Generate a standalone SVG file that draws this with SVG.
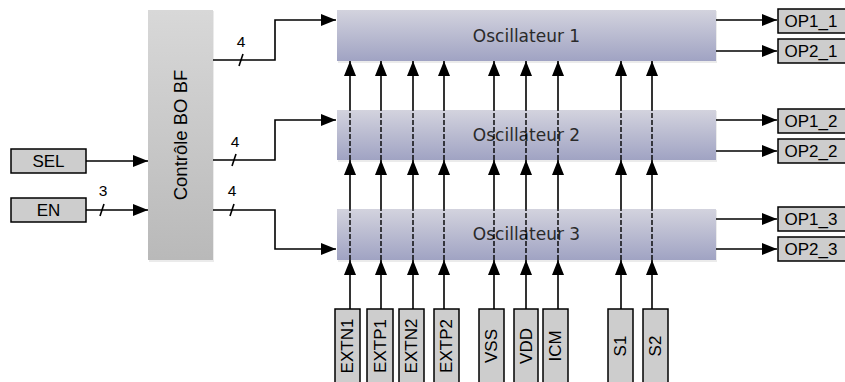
<svg xmlns="http://www.w3.org/2000/svg" width="845" height="382" viewBox="0 0 845 382">
<defs>
<linearGradient id="gCtrl" x1="0" y1="0" x2="0" y2="1">
<stop offset="0" stop-color="#d8d8d8"/>
<stop offset="1" stop-color="#b9b9b9"/>
</linearGradient>
<linearGradient id="gOsc" x1="0" y1="0" x2="0" y2="1">
<stop offset="0" stop-color="#d3d3de"/>
<stop offset="1" stop-color="#a0a3c3"/>
</linearGradient>
<marker id="ah" markerUnits="userSpaceOnUse" markerWidth="15" markerHeight="12" refX="15" refY="6" orient="auto">
<path d="M0,0 L15,6 L0,12 z" fill="#000"/>
</marker>
<style>
.io{fill:#cdcdcd;stroke:#000;stroke-width:1.5}
.lbl{font-family:"Liberation Sans",Arial,sans-serif;font-size:17px;fill:#000;text-anchor:middle}
.osc{font-family:"DejaVu Sans",Verdana,sans-serif;font-size:17px;fill:#2a2a2a;text-anchor:middle}
.num{font-family:"Liberation Sans",Arial,sans-serif;font-size:15.5px;fill:#000;text-anchor:middle}
.w{fill:none;stroke:#000;stroke-width:1.6}
.a{fill:none;stroke:#000;stroke-width:1.6;marker-end:url(#ah)}
.d{fill:none;stroke:#000;stroke-width:1.4;stroke-dasharray:5 2}
.sh{fill:#000;opacity:0.08}
</style>
</defs>

<g id="ctrl">
<rect class="sh" x="149" y="11" width="65" height="251"/>
<rect x="148" y="10" width="65" height="250" fill="url(#gCtrl)"/>
<text class="lbl" transform="translate(180.5,135) rotate(-90)" dy="0.35em" style="font-size:18.5px">Contrôle BO BF</text>
</g>

<g id="sel"><rect class="io" x="11" y="149" width="75" height="24"/><text class="lbl" x="48.5" y="167">SEL</text></g>
<g id="en"><rect class="io" x="11" y="198" width="75" height="24"/><text class="lbl" x="48.5" y="216">EN</text></g>

<g id="osc1"><rect class="sh" x="338" y="11" width="379" height="52"/><rect x="337" y="10" width="379" height="51" fill="url(#gOsc)"/><text class="osc" x="526.5" y="42">Oscillateur 1</text></g>
<g id="osc2"><rect class="sh" x="338" y="111" width="379" height="51"/><rect x="337" y="110" width="379" height="50" fill="url(#gOsc)"/><text class="osc" x="526.5" y="141">Oscillateur 2</text></g>
<g id="osc3"><rect class="sh" x="338" y="210" width="379" height="52"/><rect x="337" y="209" width="379" height="51" fill="url(#gOsc)"/><text class="osc" x="526.5" y="240">Oscillateur 3</text></g>

<g id="op11"><rect class="io" x="778" y="9" width="70" height="24"/><text class="lbl" x="811" y="27">OP1_1</text></g>
<g id="op21"><rect class="io" x="778" y="39" width="70" height="24"/><text class="lbl" x="811" y="57">OP2_1</text></g>
<g id="op12"><rect class="io" x="778" y="109" width="70" height="24"/><text class="lbl" x="811" y="127">OP1_2</text></g>
<g id="op22"><rect class="io" x="778" y="139" width="70" height="24"/><text class="lbl" x="811" y="157">OP2_2</text></g>
<g id="op13"><rect class="io" x="778" y="207" width="70" height="24"/><text class="lbl" x="811" y="225">OP1_3</text></g>
<g id="op23"><rect class="io" x="778" y="237" width="70" height="24"/><text class="lbl" x="811" y="255">OP2_3</text></g>

<g id="extn1"><rect class="io" x="335" y="309" width="25" height="90"/><text class="lbl" transform="translate(347.5,346) rotate(-90)" dy="0.35em">EXTN1</text></g>
<g id="extp1"><rect class="io" x="367" y="309" width="26" height="90"/><text class="lbl" transform="translate(380,346) rotate(-90)" dy="0.35em">EXTP1</text></g>
<g id="extn2"><rect class="io" x="399" y="309" width="25" height="90"/><text class="lbl" transform="translate(411.5,346) rotate(-90)" dy="0.35em">EXTN2</text></g>
<g id="extp2"><rect class="io" x="434" y="309" width="25" height="90"/><text class="lbl" transform="translate(446.5,346) rotate(-90)" dy="0.35em">EXTP2</text></g>
<g id="vss"><rect class="io" x="479" y="309" width="25" height="90"/><text class="lbl" transform="translate(491.5,346) rotate(-90)" dy="0.35em">VSS</text></g>
<g id="vdd"><rect class="io" x="514" y="309" width="24" height="90"/><text class="lbl" transform="translate(526,346) rotate(-90)" dy="0.35em">VDD</text></g>
<g id="icm"><rect class="io" x="543" y="309" width="25" height="90"/><text class="lbl" transform="translate(555.5,346) rotate(-90)" dy="0.35em">ICM</text></g>
<g id="s1"><rect class="io" x="608" y="309" width="25" height="90"/><text class="lbl" transform="translate(620.5,346) rotate(-90)" dy="0.35em">S1</text></g>
<g id="s2"><rect class="io" x="643" y="309" width="25" height="90"/><text class="lbl" transform="translate(655.5,346) rotate(-90)" dy="0.35em">S2</text></g>

<g id="connectors">
<path class="a" d="M86,161 H148"/>
<path class="a" d="M86,210 H148"/>
<path class="w" d="M100,216 L104,204"/>
<text class="num" x="103" y="196">3</text>

<path class="a" d="M213,60 H275 V20 H336"/>
<path class="w" d="M239,66 L243,54"/>
<text class="num" x="241" y="47">4</text>
<path class="a" d="M213,160 H275 V120 H336"/>
<path class="w" d="M232,166 L236,154"/>
<text class="num" x="235" y="147">4</text>
<path class="a" d="M213,210 H275 V249 H336"/>
<path class="w" d="M230,216 L234,204"/>
<text class="num" x="232" y="196">4</text>

<path class="a" d="M716,20 H777"/>
<path class="a" d="M716,51 H777"/>
<path class="a" d="M716,120 H777"/>
<path class="a" d="M716,151 H777"/>
<path class="a" d="M716,219 H777"/>
<path class="a" d="M716,249 H777"/>

<g id="v350"><path class="a" d="M350,309 V260"/><path class="d" d="M350,260 V209"/><path class="a" d="M350,209 V160"/><path class="d" d="M350,160 V110"/><path class="a" d="M350,110 V61"/></g>
<g id="v381"><path class="a" d="M381,309 V260"/><path class="d" d="M381,260 V209"/><path class="a" d="M381,209 V160"/><path class="d" d="M381,160 V110"/><path class="a" d="M381,110 V61"/></g>
<g id="v413"><path class="a" d="M413,309 V260"/><path class="d" d="M413,260 V209"/><path class="a" d="M413,209 V160"/><path class="d" d="M413,160 V110"/><path class="a" d="M413,110 V61"/></g>
<g id="v444"><path class="a" d="M444,309 V260"/><path class="d" d="M444,260 V209"/><path class="a" d="M444,209 V160"/><path class="d" d="M444,160 V110"/><path class="a" d="M444,110 V61"/></g>
<g id="v494"><path class="a" d="M494,309 V260"/><path class="d" d="M494,260 V209"/><path class="a" d="M494,209 V160"/><path class="d" d="M494,160 V110"/><path class="a" d="M494,110 V61"/></g>
<g id="v526"><path class="a" d="M526,309 V260"/><path class="d" d="M526,260 V209"/><path class="a" d="M526,209 V160"/><path class="d" d="M526,160 V110"/><path class="a" d="M526,110 V61"/></g>
<g id="v558"><path class="a" d="M558,309 V260"/><path class="d" d="M558,260 V209"/><path class="a" d="M558,209 V160"/><path class="d" d="M558,160 V110"/><path class="a" d="M558,110 V61"/></g>
<g id="v621"><path class="a" d="M621,309 V260"/><path class="d" d="M621,260 V209"/><path class="a" d="M621,209 V160"/><path class="d" d="M621,160 V110"/><path class="a" d="M621,110 V61"/></g>
<g id="v652"><path class="a" d="M652,309 V260"/><path class="d" d="M652,260 V209"/><path class="a" d="M652,209 V160"/><path class="d" d="M652,160 V110"/><path class="a" d="M652,110 V61"/></g>
</g>
</svg>
